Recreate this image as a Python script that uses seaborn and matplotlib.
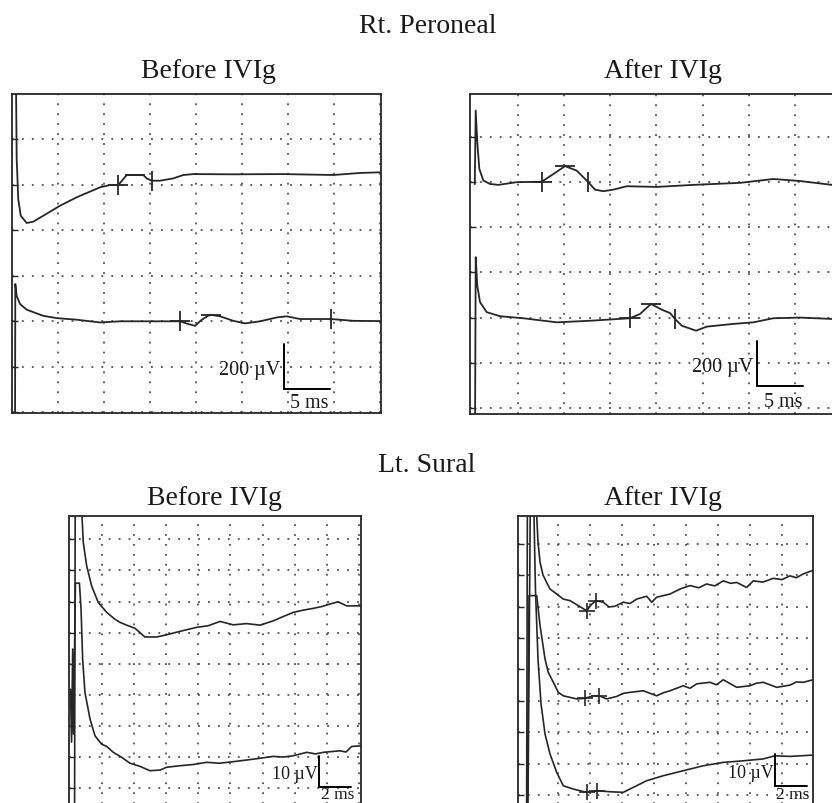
import numpy as np
import matplotlib
matplotlib.use("Agg")
import matplotlib.pyplot as plt
import seaborn as sns

# ---- Rt. Peroneal, before IVIg (time in ms, amplitude in uV) ----
per_before_a_t = [0.40, 0.51, 0.68, 0.95, 1.60, 2.32, 3.40, 5.22, 7.03, 9.57, 10.65, 11.55, 12.47,
                  14.27, 14.64, 15.18, 16.09, 17.53, 18.62, 19.71, 24.05, 29.49, 34.92, 37.83, 40.18]
per_before_a_v = [1600, 1112, 936, 863, 831, 837, 863, 907, 944, 988, 998, 998, 1042,
                  1042, 1027, 1017, 1017, 1027, 1042, 1046, 1045, 1046, 1042, 1051, 1054]
per_before_b_t = [0.33, 0.36, 0.51, 0.87, 1.60, 3.40, 4.86, 7.03, 9.57, 11.74, 15.0, 18.26, 19.16,
                  19.89, 20.62, 21.52, 22.61, 24.05, 25.33, 26.96, 28.77, 29.86, 31.30, 34.67, 37.10, 40.18]
per_before_b_v = [-60, 563, 511, 475, 450, 423, 413, 406, 394, 399, 399, 399, 387,
                  379, 406, 428, 421, 401, 390, 399, 416, 421, 409, 409, 401, 400]
per_before_a_marks = [11.55, 13.37, 15.18]   # onset, peak, end
per_before_b_marks = [18.26, 21.60, 34.67]

# ---- Rt. Peroneal, after IVIg ----
per_after_a_t = [0.30, 0.40, 0.57, 0.79, 1.23, 1.95, 2.85, 4.85, 7.56, 8.82, 10.09, 11.36, 12.61,
                 13.34, 14.24, 15.33, 16.78, 20.03, 24.0, 29.07, 32.68, 35.57, 39.05, 40.5]
per_after_a_v = [990, 1316, 1176, 1058, 1006, 991, 987, 999, 1001, 1035, 1070, 1050, 999,
                 966, 959, 966, 981, 978, 987, 996, 1013, 1004, 987, 985]
per_after_b_t = [0.33, 0.40, 0.57, 0.87, 1.59, 3.04, 5.56, 9.19, 12.80, 17.14, 18.22, 19.41, 20.58,
                 21.48, 22.02, 22.75, 24.30, 25.46, 28.34, 30.51, 32.68, 35.57, 39.05, 40.5]
per_after_b_v = [-60, 667, 541, 468, 424, 406, 397, 379, 386, 397, 416, 460, 435,
                 420, 394, 364, 342, 360, 372, 379, 397, 400, 394, 394]
per_after_a_marks = [7.56, 10.12, 12.61]
per_after_b_marks = [17.14, 19.38, 22.02]

# ---- Lt. Sural, before IVIg ----
sur_before_a_t = [0.28, 0.33, 0.62, 0.73, 0.83, 1.04, 1.35, 1.76, 2.29, 2.80, 3.12, 3.53, 4.05, 4.67,
                  5.40, 6.02, 6.85, 7.89, 8.60, 9.35, 10.17, 11.0, 11.84, 12.67, 13.30, 13.91, 14.50,
                  15.16, 15.70, 16.20, 16.70, 17.24, 18.20]
sur_before_a_v = [-25, 100, 100, 89.7, 79.0, 71.5, 65.0, 59.7, 56.5, 54.3, 53.3, 52.4, 51.4, 48.6,
                  48.6, 49.3, 50.4, 51.7, 52.2, 53.6, 52.5, 52.9, 52.4, 53.8, 55.2, 56.5, 57.2,
                  57.8, 58.4, 59.2, 59.9, 58.6, 58.6]
sur_before_b_t = [0.03, 0.10, 0.17, 0.22, 0.34, 0.59, 0.69, 0.79, 0.93, 1.25, 1.56, 1.98, 2.29, 2.70,
                  3.22, 3.74, 4.36, 4.98, 5.61, 6.02, 6.85, 7.70, 8.52, 9.30, 10.17, 11.42, 12.67,
                  13.30, 13.91, 14.75, 15.30, 15.78, 16.82, 17.20, 17.55, 18.20]
sur_before_b_v = [31.8, 14.8, 44.7, 17.4, 65.9, 65.9, 57.6, 41.5, 30.9, 22.2, 16.8, 14.1, 13.4, 11.5,
                  9.9, 8.0, 7.0, 5.6, 5.8, 6.7, 7.2, 7.6, 8.3, 8.0, 8.5, 9.3, 10.2,
                  10.0, 10.4, 11.5, 11.0, 11.5, 12.0, 11.6, 13.4, 13.6]

# ---- Lt. Sural, after IVIg ----
sur_after_a_t = [0.03, 0.09, 0.50, 0.67, 0.75, 0.88, 1.06, 1.29, 1.50, 1.92, 2.33, 2.75, 3.27, 3.79,
                 4.11, 4.38, 4.83, 5.19, 5.56, 6.08, 6.50, 6.92, 7.54, 7.86, 8.17, 9.0, 9.63, 10.25,
                 10.80, 11.29, 11.80, 12.33, 12.80, 13.17, 13.79, 14.21, 14.80, 15.46, 16.0, 16.5,
                 16.90, 17.33, 17.86, 18.1]
sur_after_a_v = [-25, 100, 100, 88.9, 80.5, 74.1, 70.1, 67.7, 65.6, 64.0, 62.4, 61.9, 60.3, 58.7,
                 60.8, 61.9, 61.4, 59.9, 60.1, 61.4, 61.0, 62.4, 63.3, 61.4, 63.0, 64.0, 65.6, 66.7,
                 66.0, 67.2, 66.6, 68.2, 67.4, 67.7, 66.1, 68.2, 67.8, 69.0, 68.6, 69.8,
                 69.2, 70.4, 71.4, 71.6]
sur_after_b_t = [0.05, 0.19, 0.67, 0.88, 1.19, 1.39, 1.71, 2.02, 2.33, 3.17, 3.69, 4.21, 4.58, 5.04,
                 5.67, 6.10, 6.5, 7.33, 8.17, 8.60, 9.0, 9.83, 10.25, 10.67, 11.5, 11.90, 12.33,
                 13.17, 14.0, 14.40, 14.83, 15.67, 16.5, 16.90, 17.33, 17.86, 18.1]
sur_after_b_v = [-25, 63.5, 63.5, 53.9, 43.3, 39.1, 35.9, 32.7, 31.6, 30.6, 30.8, 31.6, 31.6, 30.6,
                 31.4, 32.4, 32.7, 33.2, 31.6, 32.6, 33.2, 34.8, 34.0, 35.4, 35.9, 35.1, 36.7,
                 34.3, 34.8, 35.6, 35.9, 34.3, 35.0, 36.0, 35.9, 36.6, 36.8]
sur_after_c_t = [0.09, 0.28, 0.44, 0.50, 0.59, 0.75, 0.94, 1.19, 1.5, 1.92, 2.33, 2.96, 3.79, 4.42,
                 5.25, 6.08, 6.71, 7.54, 8.58, 9.83, 11.08, 12.33, 13.58, 14.83, 15.56, 16.5, 17.86, 18.1]
sur_after_c_v = [-25, 100, 100, 88.9, 65.6, 43.3, 29.0, 19.4, 13.1, 7.2, 2.96, 1.9, 0.86, 1.37,
                 1.05, 0.86, 2.45, 4.55, 6.15, 7.74, 9.33, 10.4, 10.9, 11.5, 12.5, 12.3, 12.7, 12.8]
sur_after_a_marks = [3.79, 4.38]
sur_after_b_marks = [3.69, 4.58]
sur_after_c_marks = [3.79, 4.42]

# scale bars: (ms, uV) lengths
peroneal_scale = (5, 200)
sural_scale = (2, 10)

W, H = 832, 804
INK = "#262626"

sns.set_style("white")
plt.rcParams["font.family"] = ["Liberation Serif", "DejaVu Serif"]

fig = plt.figure(figsize=(W / 100, H / 100), dpi=100)


def px_rect(l, t, r, b):
    return [l / W, 1 - b / H, (r - l) / W, (b - t) / H]


def make_panel(rect, xlim, ylim, xticks, yticks):
    ax = fig.add_axes(px_rect(*rect))
    ax.set_xlim(*xlim)
    ax.set_ylim(*ylim)
    ax.set_xticks(xticks)
    ax.set_yticks(yticks)
    ax.set_xticklabels([])
    ax.set_yticklabels([])
    ax.tick_params(axis="x", length=0)
    ax.tick_params(axis="y", left=True, direction="in", length=4, width=1, color=INK)
    ax.grid(True, linestyle=(0, (1, 4.5)), linewidth=1.3, color="#505050")
    for s in ax.spines.values():
        s.set_color(INK)
        s.set_linewidth(1.3)
    ax.set_xlabel("")
    ax.set_ylabel("")
    return ax


def trace(ax, t, v, lw=1.3):
    sns.lineplot(x=t, y=v, ax=ax, color=INK, linewidth=lw, estimator=None, sort=False)


def peroneal_marks(ax, t, v, marks):
    on, pk, end = marks
    ax.plot([on], [np.interp(on, t, v)], marker="+", ms=14, mew=1.3, color=INK)
    ax.plot([pk], [np.interp(pk, t, v)], marker="_", ms=14, mew=1.3, color=INK)
    ax.plot([end], [np.interp(end, t, v)], marker="|", ms=14, mew=1.3, color=INK)


def cross_marks(ax, t, v, marks):
    for m in marks:
        ax.plot([m], [np.interp(m, t, v)], marker="+", ms=11, mew=1.2, color=INK)


def scale_bar(ax, x0, y0, scale):
    dx, dy = scale
    ax.plot([x0, x0, x0 + dx], [y0 + dy, y0, y0], color="black", linewidth=1.4,
            solid_joinstyle="miter")


def ftext(x, y, s, size, ha="center", va="baseline"):
    fig.text(x / W, 1 - y / H, s, fontsize=size, ha=ha, va=va, color="#1a1a1a")


# Rt. Peroneal - before
ax1 = make_panel((12, 95, 381, 414), (0, 40.1), (-4, 1398),
                 np.arange(5, 41, 5), np.arange(0, 1300, 200))
trace(ax1, per_before_a_t, per_before_a_v)
trace(ax1, per_before_b_t, per_before_b_v)
peroneal_marks(ax1, per_before_a_t, per_before_a_v, per_before_a_marks)
peroneal_marks(ax1, per_before_b_t, per_before_b_v, per_before_b_marks)
scale_bar(ax1, 29.6, 100, peroneal_scale)

# Rt. Peroneal - after
ax2 = make_panel((470, 95, 841, 415), (-0.22, 40.02), (-26.5, 1389),
                 np.arange(5, 41, 5), np.arange(0, 1300, 200))
trace(ax2, per_after_a_t, per_after_a_v)
trace(ax2, per_after_b_t, per_after_b_v)
peroneal_marks(ax2, per_after_a_t, per_after_a_v, per_after_a_marks)
peroneal_marks(ax2, per_after_b_t, per_after_b_v, per_after_b_marks)
scale_bar(ax2, 30.9, 96, peroneal_scale)

# Lt. Sural - before
ax3 = make_panel((69, 517, 361, 851), (-0.06, 18.13), (-19.9, 87.5),
                 np.arange(2, 19, 2), np.arange(0, 81, 10))
trace(ax3, sur_before_a_t, sur_before_a_v, lw=1.2)
trace(ax3, sur_before_b_t, sur_before_b_v, lw=1.2)
scale_bar(ax3, 15.5, 0.3, sural_scale)

# Lt. Sural - after
ax4 = make_panel((518, 517, 813, 851), (-0.5, 17.94), (-17.5, 88.85),
                 np.arange(2, 17, 2), np.arange(0, 81, 10))
trace(ax4, sur_after_a_t, sur_after_a_v, lw=1.2)
trace(ax4, sur_after_b_t, sur_after_b_v, lw=1.2)
trace(ax4, sur_after_c_t, sur_after_c_v, lw=1.2)
cross_marks(ax4, sur_after_a_t, sur_after_a_v, sur_after_a_marks)
cross_marks(ax4, sur_after_b_t, sur_after_b_v, sur_after_b_marks)
cross_marks(ax4, sur_after_c_t, sur_after_c_v, sur_after_c_marks)
scale_bar(ax4, 15.56, 3.0, sural_scale)

# titles
ftext(428, 33, "Rt. Peroneal", 20)
ftext(208, 78, "Before IVIg", 20)
ftext(663, 78, "After IVIg", 20)
ftext(427, 472, "Lt. Sural", 20)
ftext(214, 505, "Before IVIg", 20)
ftext(663, 505, "After IVIg", 20)

# scale labels
ftext(280, 375, "200 µV", 14.5, ha="right")
ftext(309, 408, "5 ms", 14.5)
ftext(753, 372, "200 µV", 14.5, ha="right")
ftext(783, 407, "5 ms", 14.5)
ftext(318, 779, "10 µV", 13, ha="right")
ftext(338, 799, "2 ms", 12.5)
ftext(774, 778, "10 µV", 13, ha="right")
ftext(793, 799, "2 ms", 12.5)

fig.savefig("out.png", dpi=100)
